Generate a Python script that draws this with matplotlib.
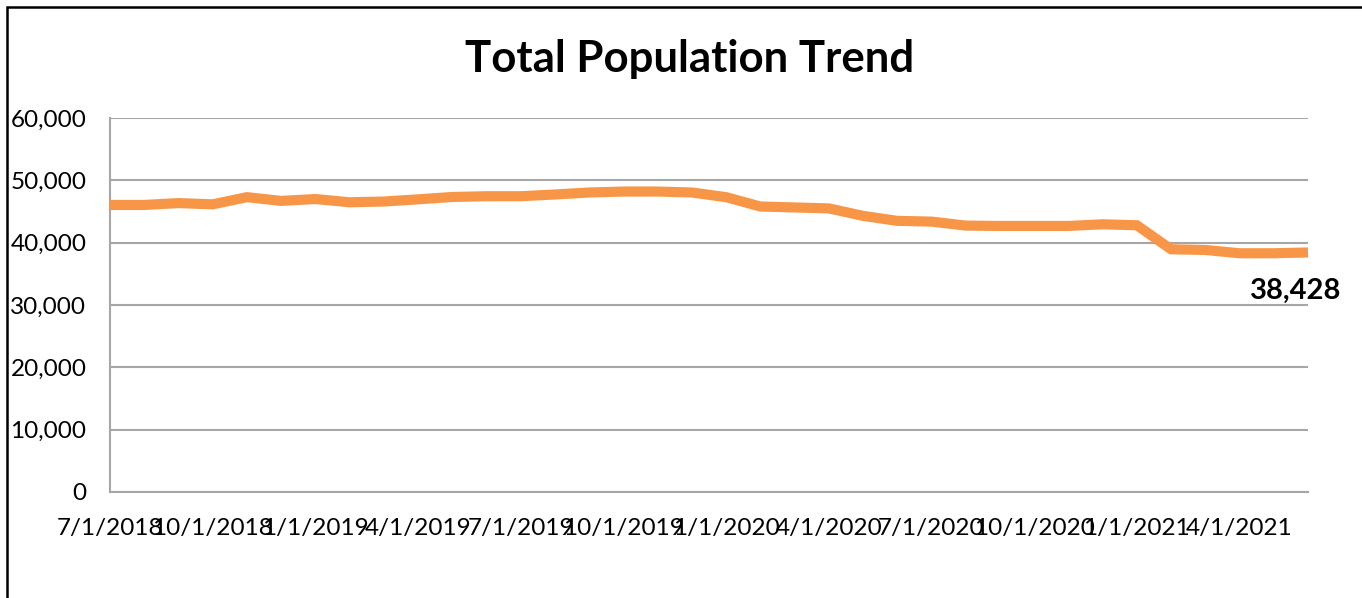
import matplotlib
matplotlib.use("Agg")
import matplotlib.pyplot as plt
from matplotlib.patches import Rectangle
from matplotlib.ticker import FuncFormatter, MultipleLocator

plt.rcParams['font.family'] = ['Lato', 'DejaVu Sans']

months = ["7/1/2018", "8/1/2018", "9/1/2018", "10/1/2018", "11/1/2018", "12/1/2018",
          "1/1/2019", "2/1/2019", "3/1/2019", "4/1/2019", "5/1/2019", "6/1/2019",
          "7/1/2019", "8/1/2019", "9/1/2019", "10/1/2019", "11/1/2019", "12/1/2019",
          "1/1/2020", "2/1/2020", "3/1/2020", "4/1/2020", "5/1/2020", "6/1/2020",
          "7/1/2020", "8/1/2020", "9/1/2020", "10/1/2020", "11/1/2020", "12/1/2020",
          "1/1/2021", "2/1/2021", "3/1/2021", "4/1/2021", "5/1/2021", "6/1/2021"]
population = [46050, 46050, 46350, 46150, 47300, 46700, 47000, 46480, 46600, 46950,
              47330, 47450, 47450, 47730, 48050, 48200, 48200, 48050, 47300, 45800,
              45650, 45500, 44300, 43500, 43380, 42740, 42680, 42680, 42680, 42950,
              42790, 38940, 38830, 38300, 38300, 38428]
title = "Total Population Trend"

W, H = 1362, 598
fig = plt.figure(figsize=(W / 100, H / 100), dpi=100)
ax = fig.add_axes([110 / W, 1 - 492 / H, (1308 - 110) / W, (492 - 118) / H])

x = list(range(len(months)))
ax.plot(x, population, color="#F79646", lw=7.3, solid_joinstyle="miter", solid_capstyle="butt", zorder=3)

ax.set_xlim(0, len(months) - 1)
ax.set_ylim(0, 60000)
ax.yaxis.set_major_locator(MultipleLocator(10000))
ax.yaxis.set_major_formatter(FuncFormatter(lambda v, p: f"{int(v):,}"))
ax.set_xticks(x[::3])
ax.set_xticklabels(months[::3])
ax.grid(axis="y", color="#a6a6a6", lw=1.5, zorder=1)
for s in ["top", "right"]:
    ax.spines[s].set_visible(False)
for s in ["left", "bottom"]:
    ax.spines[s].set_color("#a6a6a6")
    ax.spines[s].set_linewidth(1.5)
ax.tick_params(axis="both", length=0, labelsize=17.5, colors="black")
ax.tick_params(axis="x", pad=19)
ax.tick_params(axis="y", pad=17)

ax.annotate(f"{population[-1]:,}", xy=(x[-1], population[-1]), xytext=(-9, -28),
            textcoords="offset points", ha="center", va="center",
            fontsize=21, fontweight="bold", color="black")

fig.text(690 / W, 1 - 59 / H, title, ha="center", va="center", fontsize=31.5, fontweight="bold")

fig.patches.append(Rectangle((7 / W, -0.1), 1.2, 1 - 7 / H + 0.1, transform=fig.transFigure,
                             fill=False, edgecolor="black", lw=1.8))

fig.savefig("out.png", dpi=100)
